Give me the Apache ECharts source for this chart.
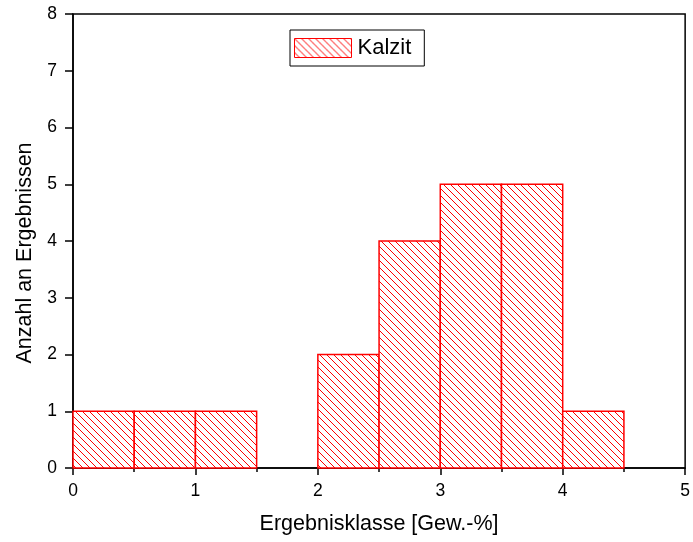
<!DOCTYPE html>
<html>
<head>
<meta charset="utf-8">
<script src="https://cdn.jsdelivr.net/npm/echarts@6/dist/echarts.min.js"></script>
<style>html,body{margin:0;padding:0;background:#fff}#c{width:693px;height:542px}</style>
</head>
<body>
<div id="c"></div>
<script>
// Data
var binStarts = [0, 0.5, 1, 1.5, 2, 2.5, 3, 3.5, 4, 4.5];
var binWidth = 0.5;
var counts = [1, 1, 1, 0, 2, 4, 5, 5, 1, 0];
var seriesName = 'Kalzit';
var xTicks = [0, 1, 2, 3, 4, 5];
var yTicks = [0, 1, 2, 3, 4, 5, 6, 7, 8];

function makeHatch() {
  var s = 7;
  var c = document.createElement('canvas');
  c.width = s; c.height = s;
  var g = c.getContext('2d');
  g.fillStyle = '#fff';
  g.fillRect(0, 0, s, s);
  g.strokeStyle = '#ff0000';
  g.lineWidth = 1;
  g.beginPath();
  g.moveTo(-1, -1); g.lineTo(s + 1, s + 1);
  g.moveTo(-1 - s, -1); g.lineTo(1, s + 1);
  g.moveTo(s - 1, -1); g.lineTo(2 * s + 1, s + 1);
  g.stroke();
  return c;
}
var hatch = { image: makeHatch(), repeat: 'repeat' };

var data = [];
for (var i = 0; i < binStarts.length; i++) {
  if (counts[i] > 0) data.push([binStarts[i], binStarts[i] + binWidth, counts[i]]);
}

var chart = echarts.init(document.getElementById('c'));
var font = 'Liberation Sans, Arial, sans-serif';
chart.setOption({
  animation: false,
  backgroundColor: '#fff',
  grid: { left: 73, right: 7, top: 14, bottom: 74, show: true, borderColor: '#000', borderWidth: 1.5, backgroundColor: 'transparent' },
  legend: {
    data: [seriesName],
    left: 290, top: 30,
    padding: [7, 13, 7, 4],
    borderColor: '#000', borderWidth: 1,
    backgroundColor: '#fff',
    itemWidth: 57, itemHeight: 19, itemGap: 6,
    icon: 'rect',
    itemStyle: { color: hatch, borderColor: '#ff0000', borderWidth: 1 },
    textStyle: { fontFamily: font, fontSize: 22, color: '#000', padding: [0, 0, 0, 1] }
  },
  xAxis: {
    type: 'value', min: 0, max: 5, interval: 1,
    name: 'Ergebnisklasse [Gew.-%]', nameLocation: 'middle', nameGap: 45,
    nameTextStyle: { fontFamily: font, fontSize: 21.5, color: '#000' },
    axisLine: { show: true, onZero: false, lineStyle: { color: '#000', width: 1.5 } },
    axisTick: { show: true, length: 7, lineStyle: { color: '#000', width: 1.5 } },
    minorTick: { show: true, splitNumber: 2, length: 4, lineStyle: { color: '#000', width: 1.5 } },
    axisLabel: { fontFamily: font, fontSize: 17.5, color: '#000', margin: 14,
      formatter: function (v) { return xTicks.indexOf(v) >= 0 ? String(v) : ''; } },
    splitLine: { show: false }
  },
  yAxis: {
    type: 'value', min: 0, max: 8, interval: 1,
    name: 'Anzahl an Ergebnissen', nameLocation: 'middle', nameGap: 30,
    nameTextStyle: { fontFamily: font, fontSize: 21.5, color: '#000', padding: [0, 24, 0, 0] },
    axisLine: { show: true, onZero: false, lineStyle: { color: '#000', width: 1.5 } },
    axisTick: { show: true, length: 8, lineStyle: { color: '#000', width: 1.5 } },
    axisLabel: { fontFamily: font, fontSize: 17.5, color: '#000', margin: 16,
      formatter: function (v) { return yTicks.indexOf(v) >= 0 ? String(v) : ''; } },
    splitLine: { show: false }
  },
  series: [{
    name: seriesName,
    type: 'custom',
    itemStyle: { color: hatch, borderColor: '#ff0000' },
    renderItem: function (params, api) {
      var p0 = api.coord([api.value(0), api.value(2)]);
      var p1 = api.coord([api.value(1), 0]);
      return {
        type: 'rect',
        shape: { x: p0[0], y: p0[1], width: p1[0] - p0[0], height: p1[1] - p0[1] },
        style: { fill: hatch, stroke: '#ff0000', lineWidth: 1.5 }
      };
    },
    encode: { x: [0, 1], y: 2 },
    data: data
  }]
});
</script>
</body>
</html>
